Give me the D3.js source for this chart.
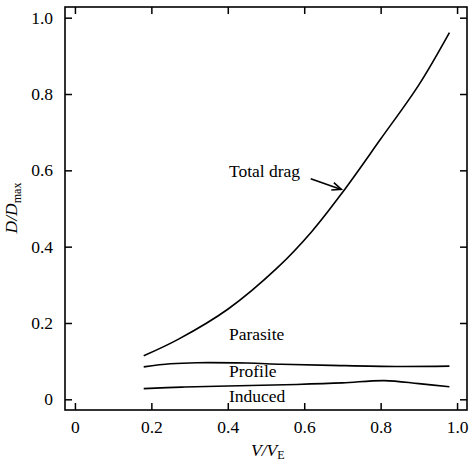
<!DOCTYPE html>
<html lang="en">
<head>
  <meta charset="UTF-8">
  <title>Drag components vs speed</title>
  <script src="https://d3js.org/d3.v7.min.js"></script>
  <style>
    body { margin: 0; background: white; }
    svg { display: block; }
    text { font-family: "Liberation Serif", "Times New Roman", serif; fill: black; }
    .curve { fill: none; stroke: black; stroke-width: 1.6px; }
  </style>
</head>
<body>
  <svg id="chart"></svg>

  <script>
    const width = 474, height = 462;

    // data
    const totalV   = [0.18, 0.27, 0.40, 0.53, 0.62, 0.70, 0.80, 0.90, 0.98];
    const totalD   = [0.114, 0.157, 0.236, 0.345, 0.440, 0.542, 0.682, 0.824, 0.961];
    const profileV = [0.18, 0.25, 0.32, 0.45, 0.54, 0.67, 0.84, 0.98];
    const profileD = [0.085, 0.093, 0.096, 0.095, 0.092, 0.089, 0.086, 0.087];
    const inducedV = [0.18, 0.28, 0.40, 0.58, 0.70, 0.81, 0.90, 0.98];
    const inducedD = [0.028, 0.032, 0.035, 0.039, 0.043, 0.049, 0.041, 0.033];
    const xTicks = [0, 0.2, 0.4, 0.6, 0.8, 1.0];
    const yTicks = [0, 0.2, 0.4, 0.6, 0.8, 1.0];
    const labels = [
      { text: "Parasite", v: 0.403, d: 0.155 },
      { text: "Profile",  v: 0.403, d: 0.059 },
      { text: "Induced",  v: 0.403, d: -0.007 }
    ];

    const frame = { left: 65, right: 467, top: 7, bottom: 410 };
    const fontSize = 17.5;

    const svg = d3.select("#chart").attr("width", width).attr("height", height);

    const x = d3.scaleLinear().domain([-0.026, 1.026]).range([frame.left, frame.right]);
    const y = d3.scaleLinear().domain([-0.028, 1.028]).range([frame.bottom, frame.top]);

    const fmt = d => d === 0 ? "0" : d3.format(".1f")(d);

    // axes with inward ticks, mirrored on top and right
    const gx = svg.append("g").attr("transform", `translate(0,${frame.bottom})`)
      .call(d3.axisBottom(x).tickValues(xTicks).tickFormat(fmt).tickSizeInner(-7).tickSizeOuter(0).tickPadding(11));
    const gxt = svg.append("g").attr("transform", `translate(0,${frame.top})`)
      .call(d3.axisTop(x).tickValues(xTicks).tickFormat("").tickSizeInner(-7).tickSizeOuter(0));
    const gy = svg.append("g").attr("transform", `translate(${frame.left},0)`)
      .call(d3.axisLeft(y).tickValues(yTicks).tickFormat(fmt).tickSizeInner(-7).tickSizeOuter(0).tickPadding(12));
    const gyr = svg.append("g").attr("transform", `translate(${frame.right},0)`)
      .call(d3.axisRight(y).tickValues(yTicks).tickFormat("").tickSizeInner(-7).tickSizeOuter(0));

    [gx, gxt, gy, gyr].forEach(g => {
      g.attr("font-family", null).attr("font-size", null);
      g.select(".domain").remove();
      g.selectAll(".tick line").attr("stroke", "black").attr("stroke-width", 1.5);
      g.selectAll(".tick text").attr("font-size", fontSize).attr("fill", "black");
    });

    svg.append("rect")
      .attr("x", frame.left).attr("y", frame.top)
      .attr("width", frame.right - frame.left).attr("height", frame.bottom - frame.top)
      .attr("fill", "none").attr("stroke", "black").attr("stroke-width", 1.6);

    const line = d3.line().x(d => x(d[0])).y(d => y(d[1])).curve(d3.curveCatmullRom);

    svg.append("path").attr("class", "curve").attr("d", line(d3.zip(totalV, totalD)));
    svg.append("path").attr("class", "curve").attr("d", line(d3.zip(profileV, profileD)));
    svg.append("path").attr("class", "curve").attr("d", line(d3.zip(inducedV, inducedD)));

    svg.selectAll(".lbl").data(labels).enter().append("text")
      .attr("class", "lbl")
      .attr("x", d => x(d.v)).attr("y", d => y(d.d))
      .attr("font-size", fontSize)
      .text(d => d.text);

    // "Total drag" annotation with arrow
    svg.append("text").attr("x", x(0.403)).attr("y", y(0.583)).attr("font-size", fontSize).text("Total drag");

    const a0 = [x(0.617), y(0.578)], a1 = [x(0.697), y(0.550)];
    svg.append("line")
      .attr("x1", a0[0]).attr("y1", a0[1]).attr("x2", a1[0]).attr("y2", a1[1])
      .attr("stroke", "black").attr("stroke-width", 1.6);
    const ang = Math.atan2(a1[1] - a0[1], a1[0] - a0[0]);
    const hl = 10, hw = 0.4;
    svg.append("path")
      .attr("d", `M${a1[0] - hl * Math.cos(ang - hw)},${a1[1] - hl * Math.sin(ang - hw)}L${a1[0]},${a1[1]}L${a1[0] - hl * Math.cos(ang + hw)},${a1[1] - hl * Math.sin(ang + hw)}`)
      .attr("fill", "none").attr("stroke", "black").attr("stroke-width", 1.6);

    // axis titles
    const xt = svg.append("text").attr("x", 251).attr("y", 456).attr("font-size", fontSize);
    xt.append("tspan").attr("font-style", "italic").text("V/V");
    xt.append("tspan").attr("font-size", 12).attr("dy", 3).text("E");

    const yt = svg.append("text")
      .attr("transform", "translate(17,208) rotate(-90)")
      .attr("text-anchor", "middle").attr("font-size", fontSize);
    yt.append("tspan").attr("font-style", "italic").text("D/D");
    yt.append("tspan").attr("font-size", 12).attr("dy", 4).text("max");
  </script>
</body>
</html>
